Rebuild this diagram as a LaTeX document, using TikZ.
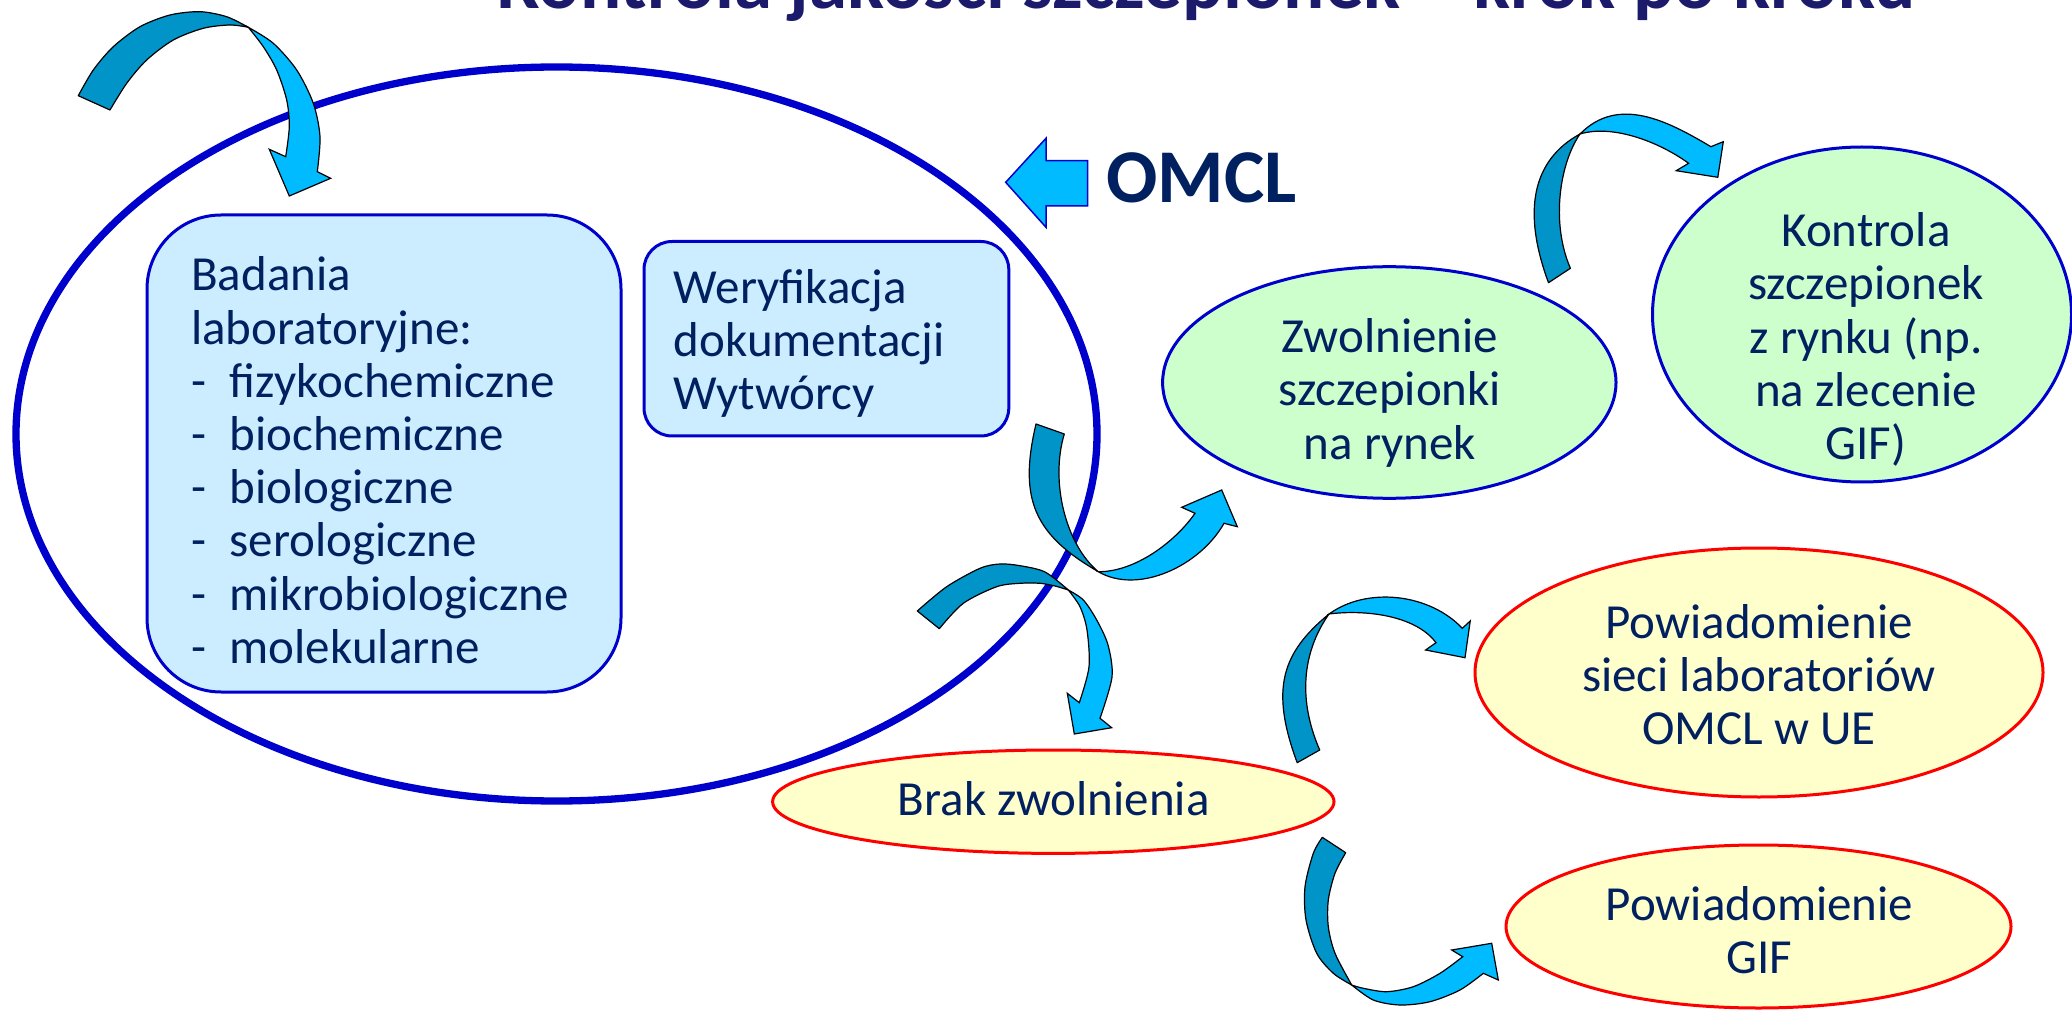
\documentclass[tikz,border=0pt]{standalone}
\usepackage{fontspec}
\setmainfont{Carlito}
\usetikzlibrary{shapes.geometric}
\definecolor{ringblue}{HTML}{0000CC}
\definecolor{boxfill}{HTML}{CCECFF}
\definecolor{greenfill}{HTML}{CCFFCC}
\definecolor{yellowfill}{HTML}{FFFFCC}
\definecolor{redline}{HTML}{FF0000}
\definecolor{arrdark}{HTML}{0094C8}
\definecolor{arrlight}{HTML}{00BBFF}
\definecolor{txtnavy}{HTML}{002060}
\definecolor{titlenavy}{HTML}{1C1A6A}
\newcommand\txtlines[2]{\begin{tabular}[t]{@{}#1@{}}#2\end{tabular}}
\newcommand\dashitem{\makebox[19.3pt][l]{-}}
\tikzset{
  bodytext/.style={inner sep=0pt, text=txtnavy, font=\fontsize{24.5}{26.6}\selectfont},
  labbox/.style={draw=ringblue, fill=boxfill, line width=1.5pt, inner sep=0pt},
  greenell/.style={ellipse, draw=ringblue, fill=greenfill, line width=1.5pt, inner sep=0pt},
  yellowell/.style={ellipse, draw=redline, fill=yellowfill, line width=1.5pt, inner sep=0pt},
  backpart/.style={fill=arrdark, draw=black, line width=0.6pt, line join=round},
  frontpart/.style={fill=arrlight, draw=black, line width=0.6pt, line join=miter},
  sm/.style={smooth, tension=0.5}
}
\begin{document}
\begin{tikzpicture}[x=0.5pt,y=-0.5pt]
\useasboundingbox (0,0) rectangle (2072,1010);
\clip (0,0) rectangle (2072,1010);
\fill[white] (0,0) rectangle (2072,1010);

% title (only lower part visible)
\node[anchor=base, inner sep=0pt, text=titlenavy, font=\bfseries\fontsize{38.5}{40}\selectfont] (title) at (1206.5,9) {Kontrola jakości szczepionek – krok po kroku};

% big OMCL ellipse
\node[ellipse, draw=ringblue, line width=3.65pt, minimum width=540.5pt, minimum height=367pt, inner sep=0pt] (omclarea) at (556.5,434) {};

% boxes
\node[labbox, minimum width=237pt, minimum height=238.5pt, rounded corners=37pt] (badania) at (384,453.5) {};
\node[labbox, minimum width=182.4pt, minimum height=97.25pt, rounded corners=14pt] (weryf) at (826.4,338.75) {};
\node[bodytext, anchor=base west] (badaniatxt) at (190.8,291) {\txtlines{l}{Badania\\laboratoryjne:\\\dashitem fizykochemiczne\\\dashitem biochemiczne\\\dashitem biologiczne\\\dashitem serologiczne\\\dashitem mikrobiologiczne\\\dashitem molekularne}};
\node[bodytext, anchor=base west] (weryftxt) at (673.4,303.6) {\txtlines{l}{Weryfikacja\\dokumentacji\\Wytwórcy}};

% ellipses
\node[greenell, minimum width=226.7pt, minimum height=115.8pt] (zwol) at (1389.3,382.5) {};
\node[bodytext, anchor=base] (zwoltxt) at (1390,352.7) {\txtlines{c}{Zwolnienie\\szczepionki\\na rynek}};
\node[greenell, minimum width=209.5pt, minimum height=167.5pt] (kontr) at (1862,314.5) {};
\node[bodytext, anchor=base] (kontrtxt) at (1866,246.7) {\txtlines{c}{Kontrola\\szczepionek\\z rynku (np.\\na zlecenie\\GIF)}};
\node[yellowell, minimum width=284pt, minimum height=124.5pt] (powue) at (1759,672.5) {};
\node[bodytext, anchor=base] (powuetxt) at (1759,638.3) {\txtlines{c}{Powiadomienie\\sieci laboratoriów\\OMCL w UE}};
\node[yellowell, minimum width=252.5pt, minimum height=81.5pt] (powgif) at (1758.5,926.5) {};
\node[bodytext, anchor=base] (powgiftxt) at (1759.5,920) {\txtlines{c}{Powiadomienie\\GIF}};
\node[yellowell, minimum width=280.7pt, minimum height=51.7pt] (brak) at (1053.3,801.7) {};
\node[bodytext, anchor=base] (braktxt) at (1053.7,815) {Brak zwolnienia};

% OMCL block arrow and label
\filldraw[fill=arrlight, draw=ringblue, line width=0.75pt, line join=miter]
  (1005.7,182.3) -- (1046,138.3) -- (1046,160.7) -- (1087.7,160.7) -- (1087.7,206) -- (1046,206) -- (1046,227.3) -- cycle;
\node[anchor=base west, inner sep=0pt, text=txtnavy, font=\bfseries\fontsize{38}{40}\selectfont] (omcl) at (1106,202.7) {OMCL};

% curved arrow A1 (top left)
\filldraw[backpart] plot[sm] coordinates {(78.3,95.7) (93.3,70) (113.3,46.7) (140,26.7) (170,15) (200,11.7) (226.7,16.7) (248.3,27.3)}
  -- plot[sm] coordinates {(248.3,27.3) (230,25) (203.3,28.3) (173.3,40) (146.7,60) (126.7,83.3) (110,110)} -- cycle;
\filldraw[frontpart] plot[sm] coordinates {(248.3,27.3) (273.3,43.3) (296.7,70) (313.3,103.3) (320,136.7) (317.3,171.7)}
  -- (330.7,178.3) -- (289.3,196) -- (269.3,149.3)
  -- plot[sm] coordinates {(285.7,156.7) (289.3,126.7) (286.7,100) (276.7,70) (263.3,46.7) (248.3,27.3)} -- cycle;

% curved arrow A2 (to Zwolnienie)
\filldraw[backpart] (1036,424) .. controls (1018,500) and (1035,535) .. (1098.3,571.7)
  .. controls (1066,545) and (1049.8,482) .. (1064.3,434) -- cycle;
\filldraw[frontpart] (1098.3,571.7) .. controls (1138,595) and (1200,566) .. (1224,523.3)
  -- (1237.3,526.7) -- (1221.7,490) -- (1181.7,507.3) -- (1195,513.3)
  .. controls (1175,542) and (1135,572) .. (1098.3,571.7) -- cycle;

% curved arrow A3 (to Brak zwolnienia)
\filldraw[backpart] plot[sm] coordinates {(917.3,611) (946.7,586.7) (980,568.3) (1000,564) (1020,565.7) (1045,572) (1068.3,590)}
  -- plot[sm] coordinates {(1068.3,590) (1055,586) (1040,583.3) (1020,583.3) (996.7,586.7) (963.3,603.3) (939.3,628.7)} -- cycle;
\filldraw[frontpart] plot[sm] coordinates {(1068.3,590) (1083.3,600) (1096.7,620) (1108,645) (1112,677) (1100,718.3)}
  -- (1111.7,727.7) -- (1074.3,734) -- (1067.3,693.3)
  -- plot[sm] coordinates {(1079.3,702.7) (1089,667) (1087,630) (1080,606.7) (1068.3,590)} -- cycle;

% curved arrow A4 (to Kontrola)
\filldraw[backpart] (1548.5,282.7) .. controls (1522.3,212.2) and (1531.6,160.4) .. (1580,134)
  .. controls (1560,162.7) and (1550.4,222.3) .. (1570.4,268.3) -- cycle;
\filldraw[frontpart] (1580,134) .. controls (1618.5,95) and (1667.9,121.2) .. (1710.9,146.7)
  -- (1723.3,141.7) -- (1717.8,177.3) -- (1676.2,170.7) -- (1688.6,163.3)
  .. controls (1660.3,142.7) and (1613.6,123.9) .. (1580,134) -- cycle;

% curved arrow A5 (to Powiadomienie sieci)
\filldraw[backpart] (1297.2,762.7) .. controls (1269.2,687.5) and (1283,652) .. (1329,614)
  .. controls (1305,648) and (1295.7,694.8) .. (1319.7,750) -- cycle;
\filldraw[frontpart] (1329,614) .. controls (1368,586) and (1430,594) .. (1462.3,628.3)
  -- (1470.2,621) -- (1465,657.7) -- (1425.6,650) -- (1436,642.7)
  .. controls (1415,614.7) and (1363.7,609.5) .. (1329,614) -- cycle;

% curved arrow A6 (to Powiadomienie GIF)
\filldraw[backpart] plot[sm] coordinates {(1322.3,837.3) (1313.3,853.3) (1305,886.7) (1306,920) (1316.7,953.3) (1333.3,973.3) (1351.7,985)}
  -- plot[sm] coordinates {(1351.7,985) (1335,953.3) (1328.3,926.7) (1328.3,900) (1335,873.3) (1345.7,852.7)} -- cycle;
\filldraw[frontpart] plot[sm] coordinates {(1351.7,985) (1373.3,1000) (1400,1005) (1430,1001.7) (1460,990) (1483.3,973.3)}
  -- (1498.3,980) -- (1491.7,943.3) -- (1451.7,950)
  -- plot[sm] coordinates {(1462.7,956.7) (1440,973.3) (1413.3,986.7) (1386.7,991.7) (1363.3,988.3) (1351.7,985)} -- cycle;
\end{tikzpicture}
\end{document}
